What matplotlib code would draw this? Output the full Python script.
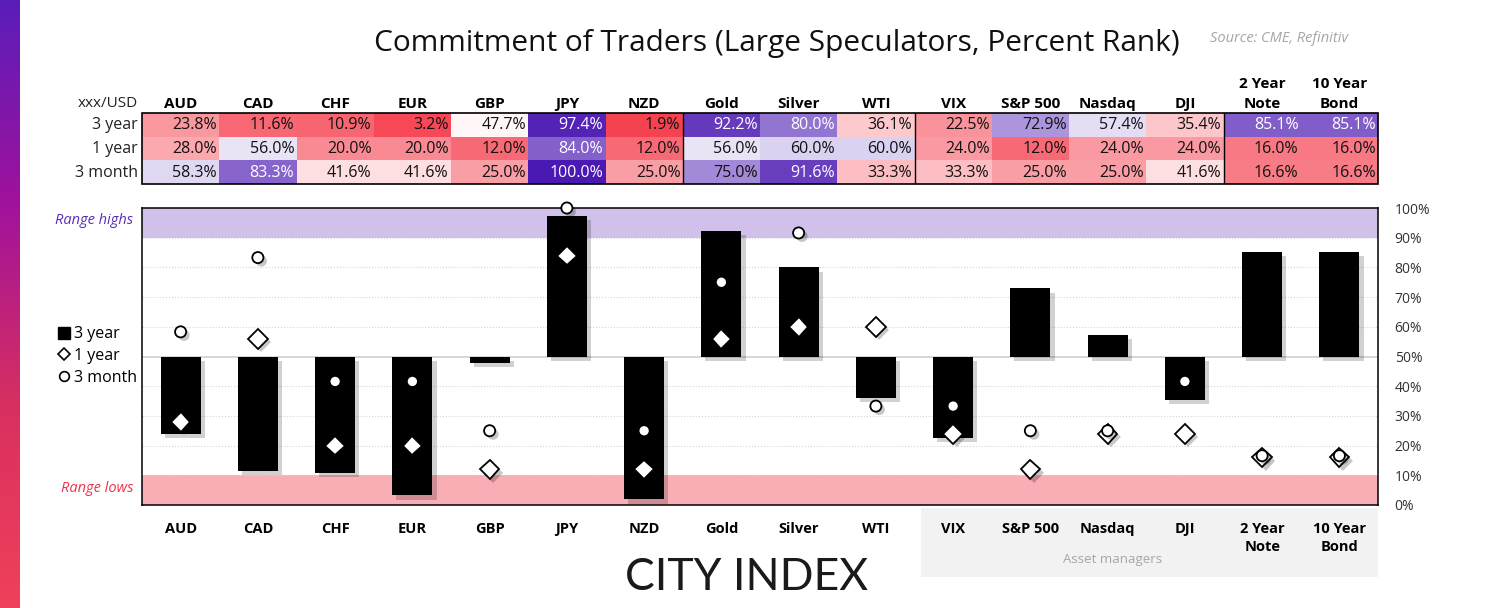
import numpy as np
import matplotlib
matplotlib.use("Agg")
import matplotlib.pyplot as plt
import matplotlib.patheffects as pe
from matplotlib.colors import LinearSegmentedColormap
from matplotlib.lines import Line2D
from matplotlib.patches import Rectangle

plt.rcParams['font.family'] = ['Open Sans', 'DejaVu Sans']

categories = ['AUD', 'CAD', 'CHF', 'EUR', 'GBP', 'JPY', 'NZD', 'Gold', 'Silver', 'WTI',
              'VIX', 'S&P 500', 'Nasdaq', 'DJI', '2 Year\nNote', '10 Year\nBond']
three_year = [23.8, 11.6, 10.9, 3.2, 47.7, 97.4, 1.9, 92.2, 80.0, 36.1,
              22.5, 72.9, 57.4, 35.4, 85.1, 85.1]
one_year = [28.0, 56.0, 20.0, 20.0, 12.0, 84.0, 12.0, 56.0, 60.0, 60.0,
            24.0, 12.0, 24.0, 24.0, 16.0, 16.0]
three_month = [58.3, 83.3, 41.6, 41.6, 25.0, 100.0, 25.0, 75.0, 91.6, 33.3,
               33.3, 25.0, 25.0, 41.6, 16.6, 16.6]
row_labels = ['3 year', '1 year', '3 month']
y_ticks = list(range(0, 101, 10))

W, H = 1498, 608
fig = plt.figure(figsize=(W / 100, H / 100), dpi=100)

def fx(px):
    return px / W

def fy(py):
    return 1 - py / H

# gradient strip on the left
ax_g = fig.add_axes([0, 0, fx(20), 1])
grad = LinearSegmentedColormap.from_list('g', ['#5A1DBA', '#A0129C', '#D8305F', '#F0405A'])
ax_g.imshow(np.linspace(0, 1, 256).reshape(-1, 1), aspect='auto', cmap=grad)
ax_g.axis('off')

x = np.arange(len(categories))
cmap = LinearSegmentedColormap.from_list('rank', ['#F53C4B', '#FFFFFF', '#4A18B2'])

# ---- table ----
ax_t = fig.add_axes([fx(142), fy(184), fx(1378) - fx(142), (184 - 113) / H])
ax_t.set_xlim(-0.5, len(categories) - 0.5)
ax_t.set_ylim(3, 0)
ax_t.axis('off')
rows = [three_year, one_year, three_month]
for r, vals in enumerate(rows):
    for i, v in enumerate(vals):
        ax_t.add_patch(Rectangle((i - 0.5, r), 1, 1, facecolor=cmap(v / 100), edgecolor='none'))
        ax_t.text(i + 0.47, r + 0.52, f"{v:.1f}%", ha='right', va='center', fontsize=11.5,
                  color='white' if v > 78 else '#111111')
    ax_t.text(-0.55, r + 0.52, row_labels[r], ha='right', va='center', fontsize=11.5,
              color='#222222', clip_on=False)
for i, c in enumerate(categories):
    ax_t.text(i, -0.1, c, ha='center', va='bottom', fontsize=11, fontweight='bold',
              linespacing=1.55, clip_on=False)
ax_t.text(-0.55, -0.1, 'xxx/USD', ha='right', va='bottom', fontsize=11, color='#222222',
          clip_on=False)
ax_t.add_patch(Rectangle((-0.5, 0), len(categories), 3, fill=False, edgecolor='black', lw=1.2,
                         clip_on=False))
for sep in [6.5, 9.5, 13.5]:
    ax_t.plot([sep, sep], [0, 3], color='black', lw=1.0)

# ---- chart ----
ax = fig.add_axes([fx(142), fy(505), fx(1378) - fx(142), (505 - 208) / H])
ax.set_xlim(-0.5, len(categories) - 0.5)
ax.set_ylim(0, 100)
ax.axhspan(90, 100, color='#D0C0EA', zorder=0.3, lw=0)
ax.axhspan(0, 10, color='#F9AEB5', zorder=0.3, lw=0)
for t in y_ticks[1:-1]:
    if t == 50:
        ax.axhline(t, color='#D0D0D0', lw=1.2, zorder=0.6)
    else:
        ax.axhline(t, color='#D5D5D5', lw=0.8, ls=':', zorder=0.6)

shadow = [pe.SimplePatchShadow(offset=(3, -3), shadow_rgbFace='black', alpha=0.18), pe.Normal()]
bars = ax.bar(x, np.array(three_year) - 50, bottom=50, width=0.52, color='black', zorder=2)
for b in bars:
    b.set_path_effects(shadow)

mshadow = [pe.SimplePatchShadow(offset=(2.5, -2.5), shadow_rgbFace='black', alpha=0.22), pe.Normal()]
ax.plot(x, one_year, ls='none', marker='D', ms=10, mfc='white', mec='black', mew=1.3,
        zorder=3, path_effects=mshadow, clip_on=False)
ax.plot(x, three_month, ls='none', marker='o', ms=8, mfc='white', mec='black', mew=1.3,
        zorder=4, path_effects=mshadow, clip_on=False)

ax.set_xticks(x, categories)
ax.tick_params(axis='x', length=0, pad=12)
for lab in ax.get_xticklabels():
    lab.set_fontweight('bold')
    lab.set_fontsize(10.5)
    lab.set_linespacing(1.4)
ax.yaxis.tick_right()
ax.set_yticks(y_ticks, [f"{t}%" for t in y_ticks])
ax.tick_params(axis='y', length=0, pad=12, labelsize=10, labelcolor='#333333')
for s in ax.spines.values():
    s.set_linewidth(1.1)
    s.set_color('black')

# asset managers box
fig.patches.append(Rectangle((fx(921), fy(577)), fx(1378) - fx(921), (577 - 508) / H,
                             transform=fig.transFigure, facecolor='#F2F2F2', edgecolor='none',
                             zorder=-1))
fig.text(fx(1113), fy(560), 'Asset managers', ha='center', va='center', fontsize=9.5,
         color='#A6A6A6')

# legend and band labels
handles = [Line2D([], [], ls='none', marker='s', ms=8, mfc='black', mec='black'),
           Line2D([], [], ls='none', marker='D', ms=6.5, mfc='white', mec='black', mew=1.2),
           Line2D([], [], ls='none', marker='o', ms=7, mfc='white', mec='black', mew=1.2)]
fig.legend(handles, row_labels, loc='center left', bbox_to_anchor=(fx(52), fy(356)),
           frameon=False, fontsize=11.5, handlelength=0.7, handletextpad=0.3,
           labelspacing=0.35, borderaxespad=0)
fig.text(fx(133), fy(220), 'Range highs', ha='right', va='center', fontsize=10.5,
         style='italic', color='#5B2DB8')
fig.text(fx(133), fy(488), 'Range lows', ha='right', va='center', fontsize=10.5,
         style='italic', color='#E8344E')

fig.text(fx(777), fy(43), 'Commitment of Traders (Large Speculators, Percent Rank)',
         ha='center', va='center', fontsize=21.5, color='#111111')
fig.text(fx(1210), fy(38), 'Source: CME, Refinitiv', ha='left', va='center', fontsize=10.5,
         style='italic', color='#A6A6A6')
fig.text(fx(747), fy(578), 'CITY INDEX', ha='center', va='center', fontsize=32,
         family=['Lato', 'DejaVu Sans'], color='#1A1A1A')

fig.savefig('out.png', dpi=100)
